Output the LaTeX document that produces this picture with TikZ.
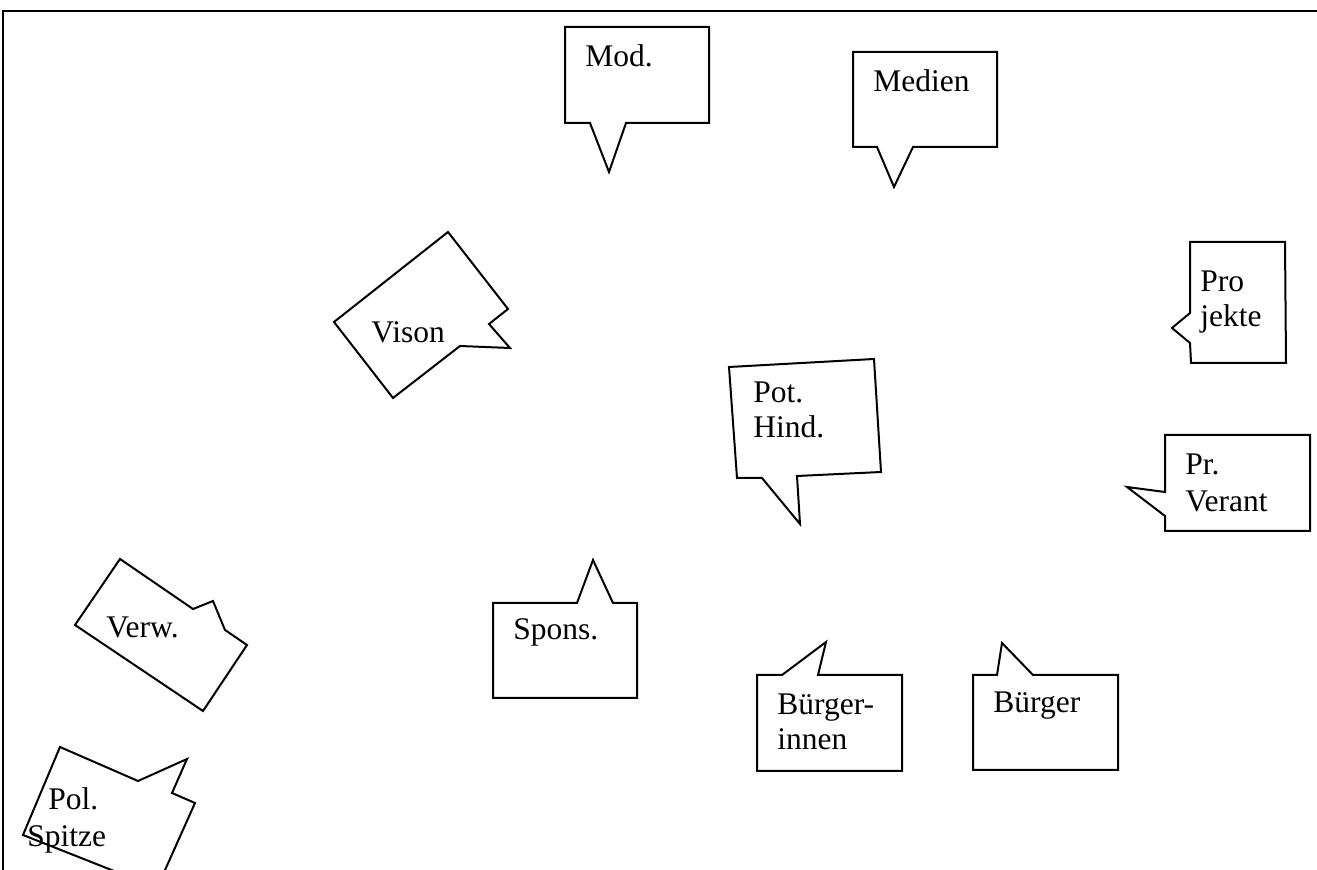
\documentclass[tikz,border=0pt]{standalone}
\usepackage{fontspec}
\setmainfont{Liberation Serif}
\begin{document}
\begin{tikzpicture}[x=0.5pt,y=-0.5pt,
  bubble/.style={draw=black,line width=1pt,line join=miter,fill=white},
  frameline/.style={draw=black,line width=0.8pt},
  lbl/.style={anchor=base west,inner sep=0pt,font=\fontsize{15.75}{17.5}\selectfont}]
\useasboundingbox (0,0) rectangle (1317,870);
\begin{scope}
\clip (0,0) rectangle (1317,870);
\draw[frameline] (3,875) -- (3,11) -- (1320,11);
% Mod.
\draw[bubble] (565,27) -- (709,27) -- (709,123) -- (626,123) -- (609,172) -- (590,123) -- (565,123) -- cycle;
\node[lbl] (tmod) at (585,67) {Mod.};
% Medien
\draw[bubble] (853,52) -- (997,52) -- (997,147) -- (913,147) -- (894,187) -- (877,147) -- (853,147) -- cycle;
\node[lbl] (tmedien) at (873,92) {Medien};
% Vison
\draw[bubble] (448,232) -- (508,309) -- (489,324) -- (510,348) -- (460,346) -- (393,398) -- (334,322) -- cycle;
\node[lbl] (tvison) at (371,343) {Vison};
% Verw.
\draw[bubble] (120,559) -- (193,609) -- (213,601) -- (225,630) -- (247,645) -- (203,711) -- (75,625) -- cycle;
\node[lbl] (tverw) at (106,638) {Verw.};
% Pol. Spitze
\draw[bubble] (60,747) -- (138,781) -- (187,759) -- (172,793) -- (195,803) -- (157,888) -- (23,835) -- cycle;
\node[lbl] (tpol1) at (48,810) {Pol.};
\node[lbl] (tpol2) at (27,846) {Spitze};
% Pot. Hind.
\draw[bubble] (729,367) -- (874,359) -- (881,472) -- (797,476) -- (800,524) -- (762,478) -- (737,478) -- cycle;
\node[lbl] (tpot1) at (753,403) {Pot.};
\node[lbl] (tpot2) at (753,438) {Hind.};
% Projekte
\draw[bubble] (1190,242) -- (1285,242) -- (1286,363) -- (1191,363) -- (1190,343) -- (1172,328) -- (1190,313) -- cycle;
\node[lbl] (tpro1) at (1200,292) {Pro};
\node[lbl] (tpro2) at (1200,327) {jekte};
% Pr. Verant
\draw[bubble] (1165,435) -- (1310,435) -- (1310,531) -- (1165,531) -- (1165,516) -- (1127,487) -- (1165,492) -- cycle;
\node[lbl] (tpr1) at (1185,475) {Pr.};
\node[lbl] (tpr2) at (1185,512) {Verant};
% Spons.
\draw[bubble] (493,603) -- (577,603) -- (593,560) -- (613,603) -- (637,603) -- (637,698) -- (493,698) -- cycle;
\node[lbl] (tspons) at (513,640) {Spons.};
% Buergerinnen
\draw[bubble] (757,675) -- (782,675) -- (826,642) -- (818,675) -- (902,675) -- (902,771) -- (757,771) -- cycle;
\node[lbl] (tbi1) at (777,715) {Bürger-};
\node[lbl] (tbi2) at (777,750) {innen};
% Buerger
\draw[bubble] (973,675) -- (997,675) -- (1002,643) -- (1033,675) -- (1118,675) -- (1118,770) -- (973,770) -- cycle;
\node[lbl] (tbuerger) at (993,713) {Bürger};
\end{scope}
\end{tikzpicture}
\end{document}
